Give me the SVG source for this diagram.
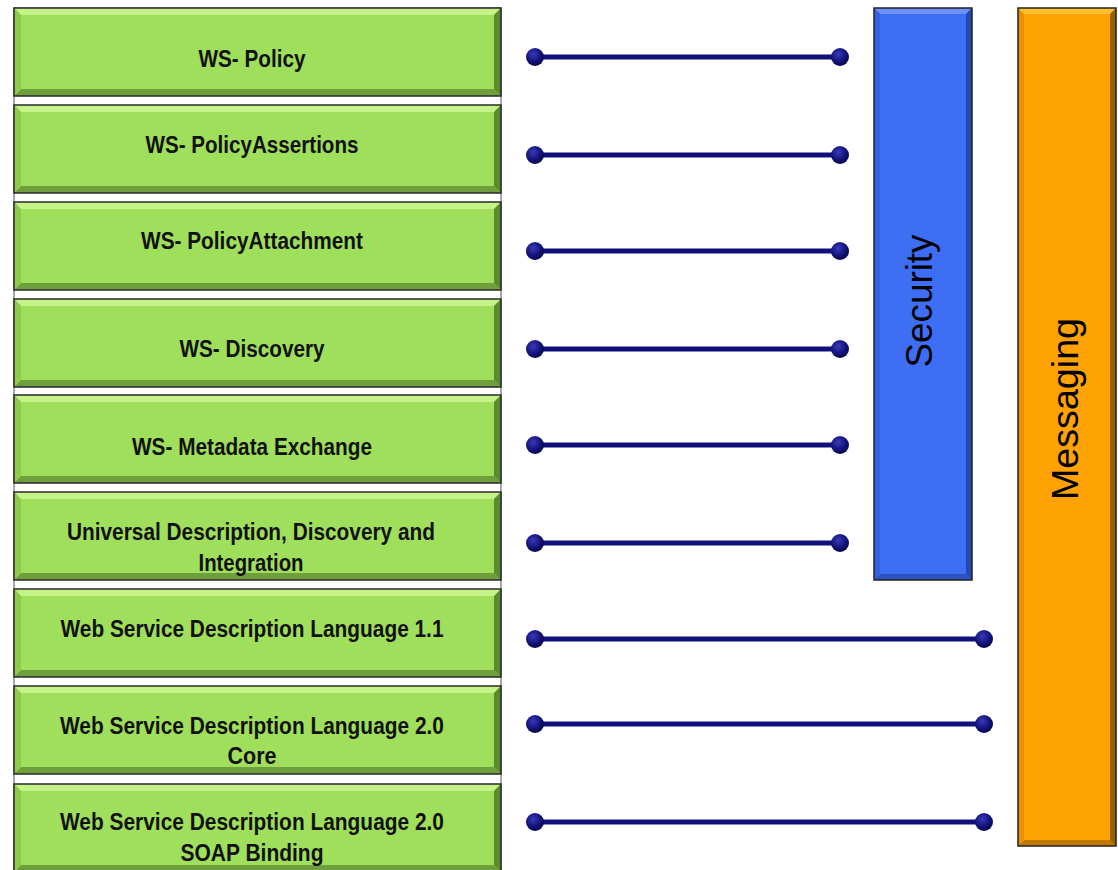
<svg xmlns="http://www.w3.org/2000/svg" xmlns:xlink="http://www.w3.org/1999/xlink" width="1118" height="870" viewBox="0 0 1118 870">
<style>
.lbl{font-family:"Liberation Sans",Arial,sans-serif;font-weight:bold;font-size:23px;fill:#111;text-anchor:middle}
.vlbl{font-family:"Liberation Sans",Arial,sans-serif;font-size:36px;fill:#000;text-anchor:middle}
.conn line{stroke:#10107a;stroke-width:5;stroke-linecap:round}
.conn circle{fill:url(#ball)}
</style>
<defs>
<radialGradient id="ball" cx="0.4" cy="0.35" r="0.7">
<stop offset="0" stop-color="#3a3ab8"/>
<stop offset="0.6" stop-color="#12127a"/>
<stop offset="1" stop-color="#05053f"/>
</radialGradient>
<g id="gbox">
<rect x="0" y="0" width="487" height="88" fill="#9fdf5b"/>
<polygon points="0,0 487,0 480,7 7,7" fill="#c6f28a"/>
<polygon points="0,88 487,88 480,81 7,81" fill="#6f9f3c"/>
<polygon points="0,0 7,7 7,81 0,88" fill="#8ccb4c"/>
<polygon points="487,0 480,7 480,81 487,88" fill="#5d8a2e"/>
<rect x="0" y="0" width="487" height="88" fill="none" stroke="#2a2a2a" stroke-width="1.5"/>
</g>
</defs>
<rect width="1118" height="870" fill="#ffffff"/>
<rect x="14" y="8" width="487" height="864" fill="#ffffff" stroke="#555" stroke-width="1"/>

<g id="n1"><use xlink:href="#gbox" x="14" y="8"/><text class="lbl" x="252" y="67" textLength="107" lengthAdjust="spacingAndGlyphs">WS- Policy</text></g>
<g id="n2"><use xlink:href="#gbox" x="14" y="105"/><text class="lbl" x="252" y="153" textLength="213" lengthAdjust="spacingAndGlyphs">WS- PolicyAssertions</text></g>
<g id="n3"><use xlink:href="#gbox" x="14" y="202"/><text class="lbl" x="252" y="249" textLength="222" lengthAdjust="spacingAndGlyphs">WS- PolicyAttachment</text></g>
<g id="n4"><use xlink:href="#gbox" x="14" y="299"/><text class="lbl" x="252" y="357" textLength="145" lengthAdjust="spacingAndGlyphs">WS- Discovery</text></g>
<g id="n5"><use xlink:href="#gbox" x="14" y="395"/><text class="lbl" x="252" y="455" textLength="240" lengthAdjust="spacingAndGlyphs">WS- Metadata  Exchange</text></g>
<g id="n6"><use xlink:href="#gbox" x="14" y="492"/><text class="lbl" x="251" y="540" textLength="368" lengthAdjust="spacingAndGlyphs">Universal Description, Discovery and</text><text class="lbl" x="251" y="571" textLength="105" lengthAdjust="spacingAndGlyphs">Integration</text></g>
<g id="n7"><use xlink:href="#gbox" x="14" y="589"/><text class="lbl" x="252" y="637" textLength="383" lengthAdjust="spacingAndGlyphs">Web Service Description Language 1.1</text></g>
<g id="n8"><use xlink:href="#gbox" x="14" y="686"/><text class="lbl" x="252" y="734" textLength="384" lengthAdjust="spacingAndGlyphs">Web Service Description Language 2.0</text><text class="lbl" x="252" y="764" textLength="49" lengthAdjust="spacingAndGlyphs">Core</text></g>
<g id="n9"><use xlink:href="#gbox" x="14" y="784"/><text class="lbl" x="252" y="830" textLength="384" lengthAdjust="spacingAndGlyphs">Web Service Description Language 2.0</text><text class="lbl" x="252" y="861" textLength="143" lengthAdjust="spacingAndGlyphs">SOAP Binding</text></g>

<g id="security">
<rect x="874" y="8" width="98" height="572" fill="#3d6ef4"/>
<polygon points="874,8 972,8 966,14 880,14" fill="#6a92f8"/>
<polygon points="874,580 972,580 966,574 880,574" fill="#2a52c0"/>
<polygon points="972,8 966,14 966,574 972,580" fill="#2448b0"/>
<polygon points="874,8 880,14 880,574 874,580" fill="#3462e0"/>
<rect x="874" y="8" width="98" height="572" fill="none" stroke="#222" stroke-width="1.5"/>
<text class="vlbl" transform="translate(932,301) rotate(-90)" x="0" y="0" textLength="133" lengthAdjust="spacingAndGlyphs">Security</text>
</g>
<g id="messaging">
<rect x="1018" y="8" width="98" height="838" fill="#ffa203"/>
<polygon points="1018,8 1116,8 1110,14 1024,14" fill="#ffc030"/>
<polygon points="1018,846 1116,846 1110,840 1024,840" fill="#c07800"/>
<polygon points="1116,8 1110,14 1110,840 1116,846" fill="#9a6000"/>
<polygon points="1018,8 1024,14 1024,840 1018,846" fill="#e89000"/>
<rect x="1018" y="8" width="98" height="838" fill="none" stroke="#222" stroke-width="1.5"/>
<text class="vlbl" transform="translate(1078,409) rotate(-90)" x="0" y="0" textLength="182" lengthAdjust="spacingAndGlyphs">Messaging</text>
</g>

<g id="connectors" class="conn">
<line x1="535" y1="57" x2="840" y2="57"/><circle cx="535" cy="57" r="9"/><circle cx="840" cy="57" r="9"/>
<line x1="535" y1="155" x2="840" y2="155"/><circle cx="535" cy="155" r="9"/><circle cx="840" cy="155" r="9"/>
<line x1="535" y1="251" x2="840" y2="251"/><circle cx="535" cy="251" r="9"/><circle cx="840" cy="251" r="9"/>
<line x1="535" y1="349" x2="840" y2="349"/><circle cx="535" cy="349" r="9"/><circle cx="840" cy="349" r="9"/>
<line x1="535" y1="445" x2="840" y2="445"/><circle cx="535" cy="445" r="9"/><circle cx="840" cy="445" r="9"/>
<line x1="535" y1="543" x2="840" y2="543"/><circle cx="535" cy="543" r="9"/><circle cx="840" cy="543" r="9"/>
<line x1="535" y1="639" x2="984" y2="639"/><circle cx="535" cy="639" r="9"/><circle cx="984" cy="639" r="9"/>
<line x1="535" y1="724" x2="984" y2="724"/><circle cx="535" cy="724" r="9"/><circle cx="984" cy="724" r="9"/>
<line x1="535" y1="822" x2="984" y2="822"/><circle cx="535" cy="822" r="9"/><circle cx="984" cy="822" r="9"/>
</g>
</svg>
